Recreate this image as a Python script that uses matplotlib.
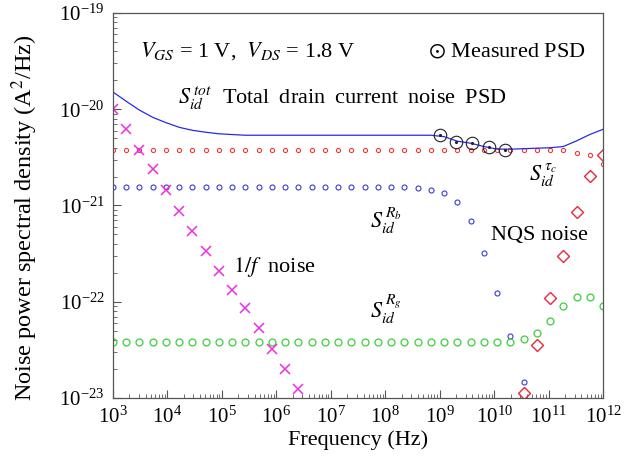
import matplotlib
matplotlib.use("Agg")
import matplotlib.pyplot as plt
from matplotlib.ticker import LogLocator, NullFormatter

plt.rcParams["font.family"] = ["Liberation Serif", "DejaVu Serif"]
plt.rcParams["mathtext.fontset"] = "stix"

# frequency grid of the simulated components (Hz)
freq = [1.000e3, 1.750e3, 3.066e3, 5.366e3, 9.397e3,
        1.645e4, 2.880e4, 5.043e4, 8.830e4,
        1.546e5, 2.706e5, 4.740e5, 8.296e5,
        1.453e6, 2.543e6, 4.453e6, 7.796e6,
        1.365e7, 2.390e7, 4.184e7, 7.327e7,
        1.283e8, 2.246e8, 3.932e8, 6.883e8,
        1.205e9, 2.110e9, 3.694e9, 6.468e9,
        1.133e10, 1.983e10, 3.472e10, 6.079e10,
        1.064e11, 1.864e11, 3.263e11, 5.712e11, 1.000e12]

# total drain current noise PSD (A^2/Hz)
s_tot = [1.51e-20, 1.21e-20, 9.79e-21, 8.24e-21, 7.26e-21,
         6.49e-21, 6.04e-21, 5.77e-21, 5.56e-21,
         5.46e-21, 5.37e-21, 5.37e-21, 5.37e-21,
         5.37e-21, 5.37e-21, 5.37e-21, 5.37e-21,
         5.37e-21, 5.37e-21, 5.37e-21, 5.37e-21,
         5.37e-21, 5.37e-21, 5.37e-21, 5.37e-21,
         5.19e-21, 4.66e-21, 4.44e-21, 4.10e-21,
         3.85e-21, 3.85e-21, 3.89e-21, 3.94e-21,
         3.98e-21, 4.10e-21, 4.69e-21, 5.46e-21, 6.19e-21]

# channel (tau_c) component
s_tauc = [3.76e-21, 3.76e-21, 3.76e-21, 3.76e-21, 3.76e-21,
          3.76e-21, 3.76e-21, 3.76e-21, 3.76e-21,
          3.76e-21, 3.76e-21, 3.76e-21, 3.76e-21,
          3.76e-21, 3.76e-21, 3.76e-21, 3.76e-21,
          3.76e-21, 3.76e-21, 3.76e-21, 3.76e-21,
          3.76e-21, 3.76e-21, 3.76e-21, 3.76e-21,
          3.76e-21, 3.76e-21, 3.76e-21, 3.76e-21,
          3.76e-21, 3.76e-21, 3.76e-21, 3.76e-21,
          3.76e-21, 3.76e-21, 3.52e-21, 3.32e-21, 2.69e-21]

# body resistance component (drops off the axis after 3.5e10 Hz)
s_rb = [1.55e-21, 1.55e-21, 1.55e-21, 1.55e-21, 1.55e-21,
        1.55e-21, 1.55e-21, 1.55e-21, 1.55e-21,
        1.55e-21, 1.55e-21, 1.55e-21, 1.55e-21,
        1.55e-21, 1.55e-21, 1.55e-21, 1.55e-21,
        1.55e-21, 1.55e-21, 1.55e-21, 1.55e-21,
        1.55e-21, 1.55e-21, 1.52e-21, 1.46e-21,
        1.35e-21, 1.10e-21, 6.82e-22, 3.18e-22,
        1.24e-22, 4.44e-23, 1.46e-23]

# gate resistance component
s_rg = [3.83e-23, 3.83e-23, 3.83e-23, 3.83e-23, 3.83e-23,
        3.83e-23, 3.83e-23, 3.83e-23, 3.83e-23,
        3.83e-23, 3.83e-23, 3.83e-23, 3.83e-23,
        3.83e-23, 3.83e-23, 3.83e-23, 3.83e-23,
        3.83e-23, 3.83e-23, 3.83e-23, 3.83e-23,
        3.83e-23, 3.83e-23, 3.83e-23, 3.83e-23,
        3.83e-23, 3.83e-23, 3.83e-23, 3.83e-23,
        3.83e-23, 3.83e-23, 4.12e-23, 4.73e-23,
        6.31e-23, 9.12e-23, 1.11e-22, 1.12e-22, 9.12e-23]

# 1/f noise (first 15 grid points)
s_flicker = [1.01e-20, 6.19e-21, 3.76e-21, 2.37e-21, 1.46e-21,
             8.87e-22, 5.42e-22, 3.37e-22, 2.08e-22,
             1.32e-22, 8.53e-23, 5.31e-23, 3.25e-23,
             2.02e-23, 1.24e-23]

# NQS noise (last 7 grid points)
s_nqs = [1.14e-23, 3.52e-23, 1.09e-22, 3.01e-22, 8.51e-22, 2.03e-21, 3.37e-21]

# measured PSD
meas_freq = [1e9, 2e9, 4e9, 8e9, 1.6e10]
meas_psd = [5.37e-21, 4.62e-21, 4.41e-21, 4.01e-21, 3.78e-21]


fig = plt.figure(figsize=(6.41, 4.59), dpi=100)
ax = fig.add_axes([113 / 641, 1 - 398 / 459, 490 / 641, 385 / 459])

ax.plot(freq, s_tauc, "o", ls="none", ms=3, mfc="none", mec="#ee3a3a", mew=0.8)
ax.plot(freq[:len(s_rb)], s_rb, "o", ls="none", ms=3.6, mfc="none", mec="#3a3ae0", mew=0.8)
ax.plot(freq, s_rg, "o", ls="none", ms=5, mfc="none", mec="#3ccf3c", mew=0.9)
ax.plot(freq[:len(s_flicker)], s_flicker, "x", ls="none", ms=7, mec="#ee2ee0", mew=1.1)
ax.plot(freq[-len(s_nqs):], s_nqs, "D", ls="none", ms=6.5, mfc="none", mec="#e8283c", mew=1.0)
ax.plot(freq, s_tot, "-", color="#2a2ae6", lw=0.9)
ax.plot(meas_freq, meas_psd, "o", ls="none", ms=9, mfc="none", mec="#222222", mew=0.8)
ax.plot(meas_freq, meas_psd, ".", ls="none", ms=2.5, color="#222222")

ax.set_xscale("log")
ax.set_yscale("log")
ax.set_xlim(1e3, 1e12)
ax.set_ylim(1e-23, 1e-19)

ax.xaxis.set_major_locator(LogLocator(base=10, numticks=20))
ax.xaxis.set_minor_locator(LogLocator(base=10, subs=range(2, 10), numticks=100))
ax.xaxis.set_minor_formatter(NullFormatter())
ax.yaxis.set_minor_locator(LogLocator(base=10, subs=range(2, 10), numticks=100))
ax.yaxis.set_minor_formatter(NullFormatter())

ax.tick_params(which="both", direction="in", top=False, right=False,
               color="#555555", labelsize=15)
ax.tick_params(which="major", length=6, width=0.8)
ax.tick_params(which="minor", length=3, width=0.6)
ax.tick_params(axis="x", pad=6)
ax.tick_params(axis="y", pad=6)
for sp in ax.spines.values():
    sp.set_color("#555555")
    sp.set_linewidth(0.9)

ax.set_xlabel("Frequency (Hz)", fontsize=16)
ax.set_ylabel("Noise power spectral density (A$^2$/Hz)", fontsize=17.5)
ax.xaxis.set_label_coords(0.5, -0.085)
ax.yaxis.set_label_coords(-0.148, 0.469)

fs = 16
sp2 = " \u2009"
ax.text(0.055, 0.888, r"$V_{GS}$ = 1 V,  $V_{DS}$ = 1.8 V", transform=ax.transAxes,
        fontsize=fs, va="baseline", ha="left")
ax.text(0.643, 0.888, r"$\odot$ Measured PSD", transform=ax.transAxes,
        fontsize=fs, va="baseline", ha="left")
ax.text(0.133, 0.763,
        r"$S_{id}^{\,tot}$  " + sp2.join(["Total", "drain", "current", "noise", "PSD"]),
        transform=ax.transAxes, fontsize=fs, va="baseline", ha="left")
ax.text(0.849, 0.564, r"$S_{id}^{\,\tau_c}$", transform=ax.transAxes,
        fontsize=fs, va="baseline", ha="left")
ax.text(0.524, 0.442, r"$S_{id}^{\,R_b}$", transform=ax.transAxes,
        fontsize=fs, va="baseline", ha="left")
ax.text(0.771, 0.41, "NQS noise", transform=ax.transAxes,
        fontsize=fs, va="baseline", ha="left")
ax.text(0.244, 0.327, r"$1/f$  noise", transform=ax.transAxes,
        fontsize=fs, va="baseline", ha="left")
ax.text(0.524, 0.208, r"$S_{id}^{\,R_g}$", transform=ax.transAxes,
        fontsize=fs, va="baseline", ha="left")

fig.savefig("out.png", dpi=100)
plt.close(fig)
